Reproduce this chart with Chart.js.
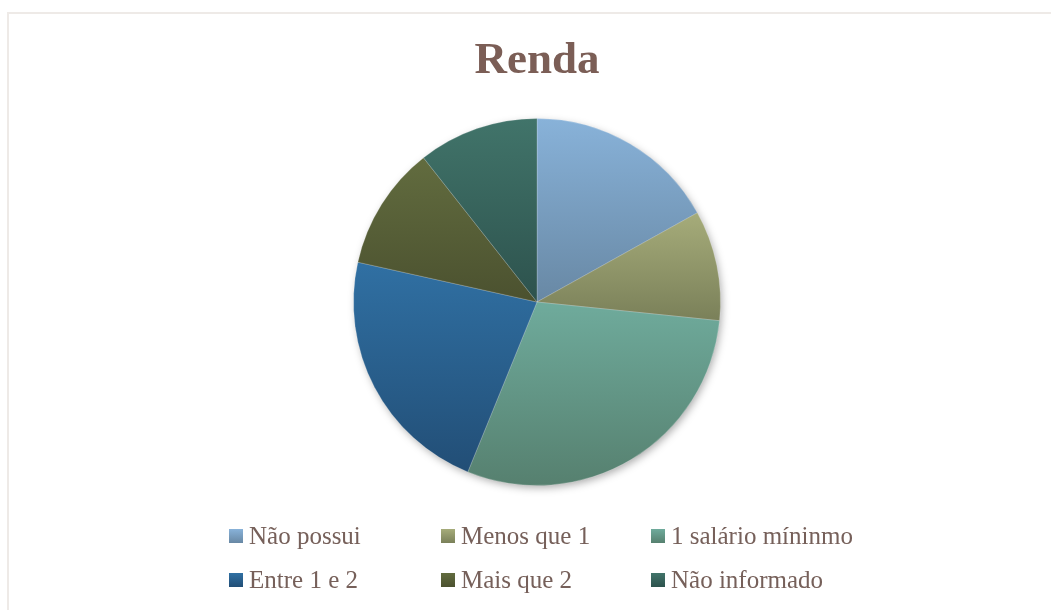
<!DOCTYPE html>
<html>
<head>
<meta charset="utf-8">
<script src="https://cdn.jsdelivr.net/npm/chart.js@4/dist/chart.umd.min.js"></script>
<style>
  html, body { margin:0; padding:0; background:#ffffff; overflow:hidden; width:1051px; height:610px; }
  #frame { position:absolute; left:7px; top:12px; width:1100px; height:700px; border:2px solid #eeeae7; box-sizing:border-box; }
  #c { position:absolute; left:0; top:0; }
  #legend { position:absolute; left:0; top:0; width:1051px; height:610px; pointer-events:none; }
  .item { position:absolute; height:25px; font-family:"Liberation Serif", "DejaVu Serif", serif; font-size:25px; line-height:25px; color:#76605a; white-space:nowrap; }
  .box { position:absolute; left:0; top:6px; width:14px; height:14px; }
  .txt { position:absolute; left:20px; top:0; }
</style>
</head>
<body>
<div id="frame"></div>
<canvas id="c" width="1051" height="610"></canvas>
<div id="legend"></div>
<script>
const labels = ['Não possui', 'Menos que 1', '1 salário míninmo', 'Entre 1 e 2', 'Mais que 2', 'Não informado'];
const values = [16.9, 9.7, 29.5, 22.3, 10.9, 10.6];
const topColors = ['#88b2d9', '#a6ac7a', '#6fab9c', '#3070a3', '#626c3f', '#41746a'];
const bottomColors = ['#6888a4', '#7a8059', '#56806f', '#224e76', '#4b512f', '#2d524d'];
const legendCols = [229, 441, 651];
const legendRows = [523, 567];

const gradPlugin = {
  id: 'sliceGradient',
  beforeDatasetsDraw(chart) {
    const ctx = chart.ctx;
    const meta = chart.getDatasetMeta(0);
    meta.data.forEach((el, i) => {
      const p = el.getProps(['x', 'y', 'startAngle', 'endAngle', 'outerRadius'], true);
      const r = p.outerRadius;
      const ys = [p.y, p.y + r * Math.sin(p.startAngle), p.y + r * Math.sin(p.endAngle)];
      for (let k = -2; k <= 2; k++) {
        const a1 = Math.PI / 2 + 2 * k * Math.PI;
        if (a1 >= p.startAngle && a1 <= p.endAngle) ys.push(p.y + r);
        const a2 = -Math.PI / 2 + 2 * k * Math.PI;
        if (a2 >= p.startAngle && a2 <= p.endAngle) ys.push(p.y - r);
      }
      const g = ctx.createLinearGradient(0, Math.min(...ys), 0, Math.max(...ys));
      g.addColorStop(0, topColors[i]);
      g.addColorStop(1, bottomColors[i]);
      el.options.backgroundColor = g;
    });
    const e0 = meta.data[0];
    if (e0) {
      ctx.save();
      ctx.shadowColor = 'rgba(0,0,0,0.35)';
      ctx.shadowBlur = 8;
      ctx.shadowOffsetX = 2;
      ctx.shadowOffsetY = 3;
      ctx.beginPath();
      ctx.arc(e0.x, e0.y, e0.outerRadius - 1, 0, Math.PI * 2);
      ctx.fillStyle = '#7a8a90';
      ctx.fill();
      ctx.restore();
    }
  }
};

new Chart(document.getElementById('c'), {
  type: 'pie',
  data: {
    labels: labels,
    datasets: [{
      data: values,
      backgroundColor: (c) => topColors[c.dataIndex],
      borderColor: 'rgba(255,255,255,0.2)',
      borderWidth: 1
    }]
  },
  options: {
    responsive: false,
    devicePixelRatio: 1,
    animation: false,
    layout: { padding: { left: 353, right: 330, top: 0, bottom: 124 } },
    plugins: {
      legend: { display: false },
      tooltip: { enabled: false },
      title: {
        display: true,
        text: 'Renda',
        color: '#7b5e56',
        font: { family: '"Liberation Serif", "DejaVu Serif", serif', size: 45, weight: 'bold' },
        padding: { top: 34, bottom: 30 }
      }
    }
  },
  plugins: [gradPlugin]
});

const legendEl = document.getElementById('legend');
labels.forEach((lab, i) => {
  const item = document.createElement('div');
  item.className = 'item';
  item.style.left = legendCols[i % 3] + 'px';
  item.style.top = legendRows[Math.floor(i / 3)] + 'px';
  const box = document.createElement('span');
  box.className = 'box';
  box.style.background = 'linear-gradient(to bottom, ' + topColors[i] + ', ' + bottomColors[i] + ')';
  const txt = document.createElement('span');
  txt.className = 'txt';
  txt.textContent = lab;
  item.appendChild(box);
  item.appendChild(txt);
  legendEl.appendChild(item);
});
</script>
</body>
</html>
